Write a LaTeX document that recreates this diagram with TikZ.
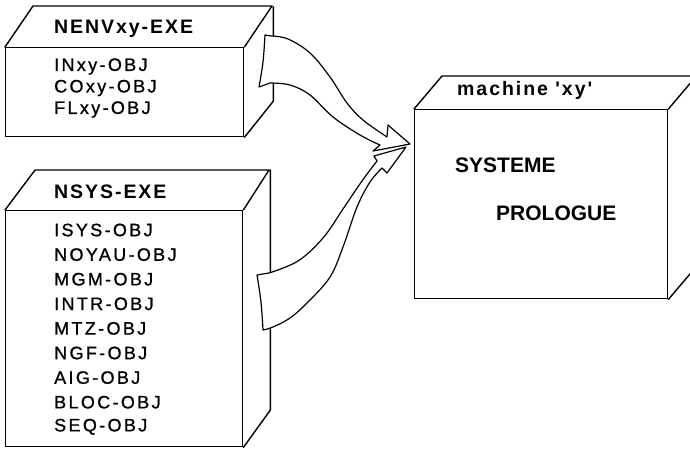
\documentclass[tikz,border=0pt]{standalone}
\usepackage{fontspec}
\setmainfont{Liberation Sans}
\newfontfamily\itemfont{Liberation Sans}[LetterSpace=13, FakeBold=1]
\newfontfamily\headfont{Liberation Sans}[LetterSpace=10]
\newfontfamily\tagfont{Liberation Sans}[LetterSpace=10]
\begin{document}
\begin{tikzpicture}[x=1pt,y=-1pt,
  edge/.style={line width=1.4pt, line join=round, line cap=round},
  face/.style={edge, draw, fill=white, inner sep=0pt, anchor=north west},
  listitem/.style={anchor=west, inner sep=0pt, font=\itemfont\fontsize{18}{20}\selectfont},
  boxtitle/.style={anchor=west, inner sep=0pt, font=\headfont\bfseries\fontsize{19.5}{22}\selectfont},
  bigword/.style={anchor=west, inner sep=0pt, font=\bfseries\fontsize{21}{23}\selectfont},
  ribbon/.style={edge, fill=white, line width=1.2pt}]
\useasboundingbox (0,0) rectangle (690,448);
\clip (0,0) rectangle (690,448);

% ---- box NENVxy-EXE
\node[face, minimum width=238pt, minimum height=89pt] (nenv) at (5,47) {};
\draw[edge] (nenv.north west) -- ++(28,-41) -- ++(239,0) -- (nenv.north east)
            (nenv.north east) ++(29,-40) -- ++(0,94) -- (nenv.south east);
\node[boxtitle] (nenvT) at (54,29) {NENVxy-EXE};
\node[listitem] (n1) at (54,66.5) {INxy-OBJ};
\node[listitem] (n2) at (54,88) {COxy-OBJ};
\node[listitem] (n3) at (54,109.5) {FLxy-OBJ};

% ---- box NSYS-EXE
\node[face, minimum width=237pt, minimum height=236pt] (nsys) at (5,210) {};
\draw[edge] (nsys.north west) -- ++(30,-40) -- ++(234,0) -- (nsys.north east)
            (nsys.north east) ++(27,-40) -- ++(0,240) -- (nsys.south east);
\node[boxtitle] (nsysT) at (54,192) {NSYS-EXE};
\foreach \t [count=\i from 0] in {ISYS-OBJ,NOYAU-OBJ,MGM-OBJ,INTR-OBJ,MTZ-OBJ,NGF-OBJ,AIG-OBJ,BLOC-OBJ,SEQ-OBJ}
  \node[listitem] (s\i) at (54,{230+24.6*\i}) {\t};

% ---- box machine 'xy'
\node[face, minimum width=253pt, minimum height=189pt] (mach) at (414,109) {};
\draw[edge] (mach.north west) -- ++(28,-33) -- ++(260,0)
            (mach.north east) -- ++(28,-33)
            (mach.south east) -- ++(28,-33);
\node[anchor=west, inner sep=0pt, font=\tagfont\bfseries\fontsize{19.5}{21}\selectfont] (machT) at (457,90) {machine 'xy'};
\node[bigword] (sys) at (455,165) {SYSTEME};
\node[bigword] (pro) at (496,213) {PROLOGUE};

% ---- ribbon arrows into the machine
\coordinate (tipA) at (410,144);
\coordinate (tipB) at (406,147);
\filldraw[ribbon] (265,35) -- (271,36)
  -- plot[smooth, tension=0.6] coordinates {(271,36) (288,39) (310,53) (330,77) (347,103) (363,120) (387,137)}
  -- (388,125) -- (tipA) -- (373,151) -- (380,145)
  -- plot[smooth, tension=0.6] coordinates {(380,145) (360,135) (333,117) (310,95) (290,85) (270,83)}
  -- (259,87)
  -- plot[smooth, tension=0.6] coordinates {(259,87) (263,62) (265,35)} -- cycle;
\filldraw[ribbon] (257,275) -- (269,273)
  -- plot[smooth, tension=0.6] coordinates {(269,273) (298,261) (323,238) (343,209) (362,181) (377,161)}
  -- (374,156) -- (tipB) -- (387,173) -- (382,168)
  -- plot[smooth, tension=0.6] coordinates {(382,168) (370,182) (357,207) (343,247) (330,277) (308,302) (290,318) (273,327) (263,330)}
  -- plot[smooth, tension=0.6] coordinates {(263,330) (261,302) (257,275)} -- cycle;
\end{tikzpicture}
\end{document}
